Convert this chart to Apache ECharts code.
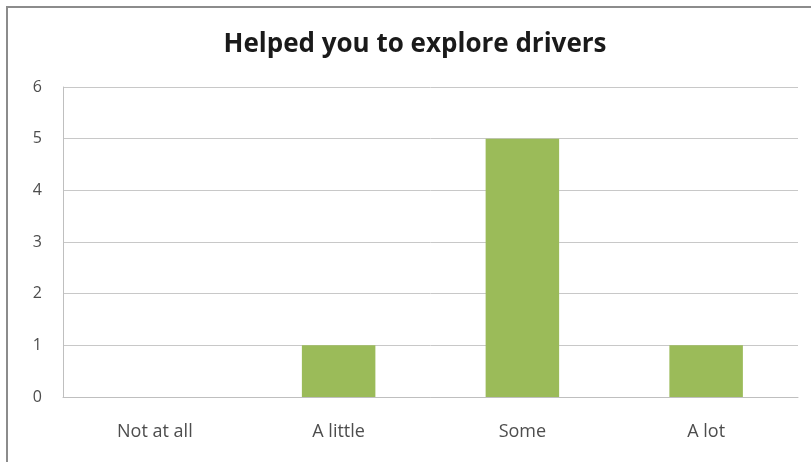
<!DOCTYPE html>
<html><head><meta charset="utf-8">
<script src="https://cdn.jsdelivr.net/npm/echarts@6/dist/echarts.min.js"></script>
<style>html,body{margin:0;padding:0;background:#fff}#c{width:811px;height:462px}</style>
</head><body><div id="c"></div>
<script>
const title = "Helped you to explore drivers";
const categories = ["Not at all", "A little", "Some", "A lot"];
const values = [0, 1, 5, 1];
const yTicks = [0, 1, 2, 3, 4, 5, 6];

const chart = echarts.init(document.getElementById('c'), null, {renderer: 'canvas'});
chart.setOption({
  animation: false,
  backgroundColor: '#fff',
  title: {
    text: title, left: 410, top: 27, textAlign: 'center',
    textStyle: {fontFamily: 'Open Sans', fontSize: 26, fontWeight: 'bold', color: '#1a1a1a'}
  },
  graphic: [{
    type: 'rect', shape: {x: 7, y: 7, width: 900, height: 600},
    style: {fill: 'none', stroke: '#8c8c8c', lineWidth: 2}, silent: true
  }],
  grid: {left: 63, right: 13, top: 87, bottom: 65, containLabel: false},
  xAxis: {
    type: 'category', data: categories,
    axisLine: {show: true, lineStyle: {color: '#bfbfbf', width: 1}},
    axisTick: {show: false},
    axisLabel: {color: '#4d4d4d', fontFamily: 'Open Sans', fontSize: 18, margin: 26}
  },
  yAxis: {
    type: 'value', min: yTicks[0], max: yTicks[yTicks.length - 1], interval: 1,
    axisLine: {show: true, lineStyle: {color: '#bfbfbf', width: 1}},
    axisTick: {show: false},
    axisLabel: {color: '#4d4d4d', fontFamily: 'Open Sans', fontSize: 16, margin: 21},
    splitLine: {lineStyle: {color: '#c8c8c8', width: 1}}
  },
  series: [{
    type: 'bar', data: values, barWidth: '40%',
    itemStyle: {color: '#9bbb59'}
  }]
});
</script></body></html>
